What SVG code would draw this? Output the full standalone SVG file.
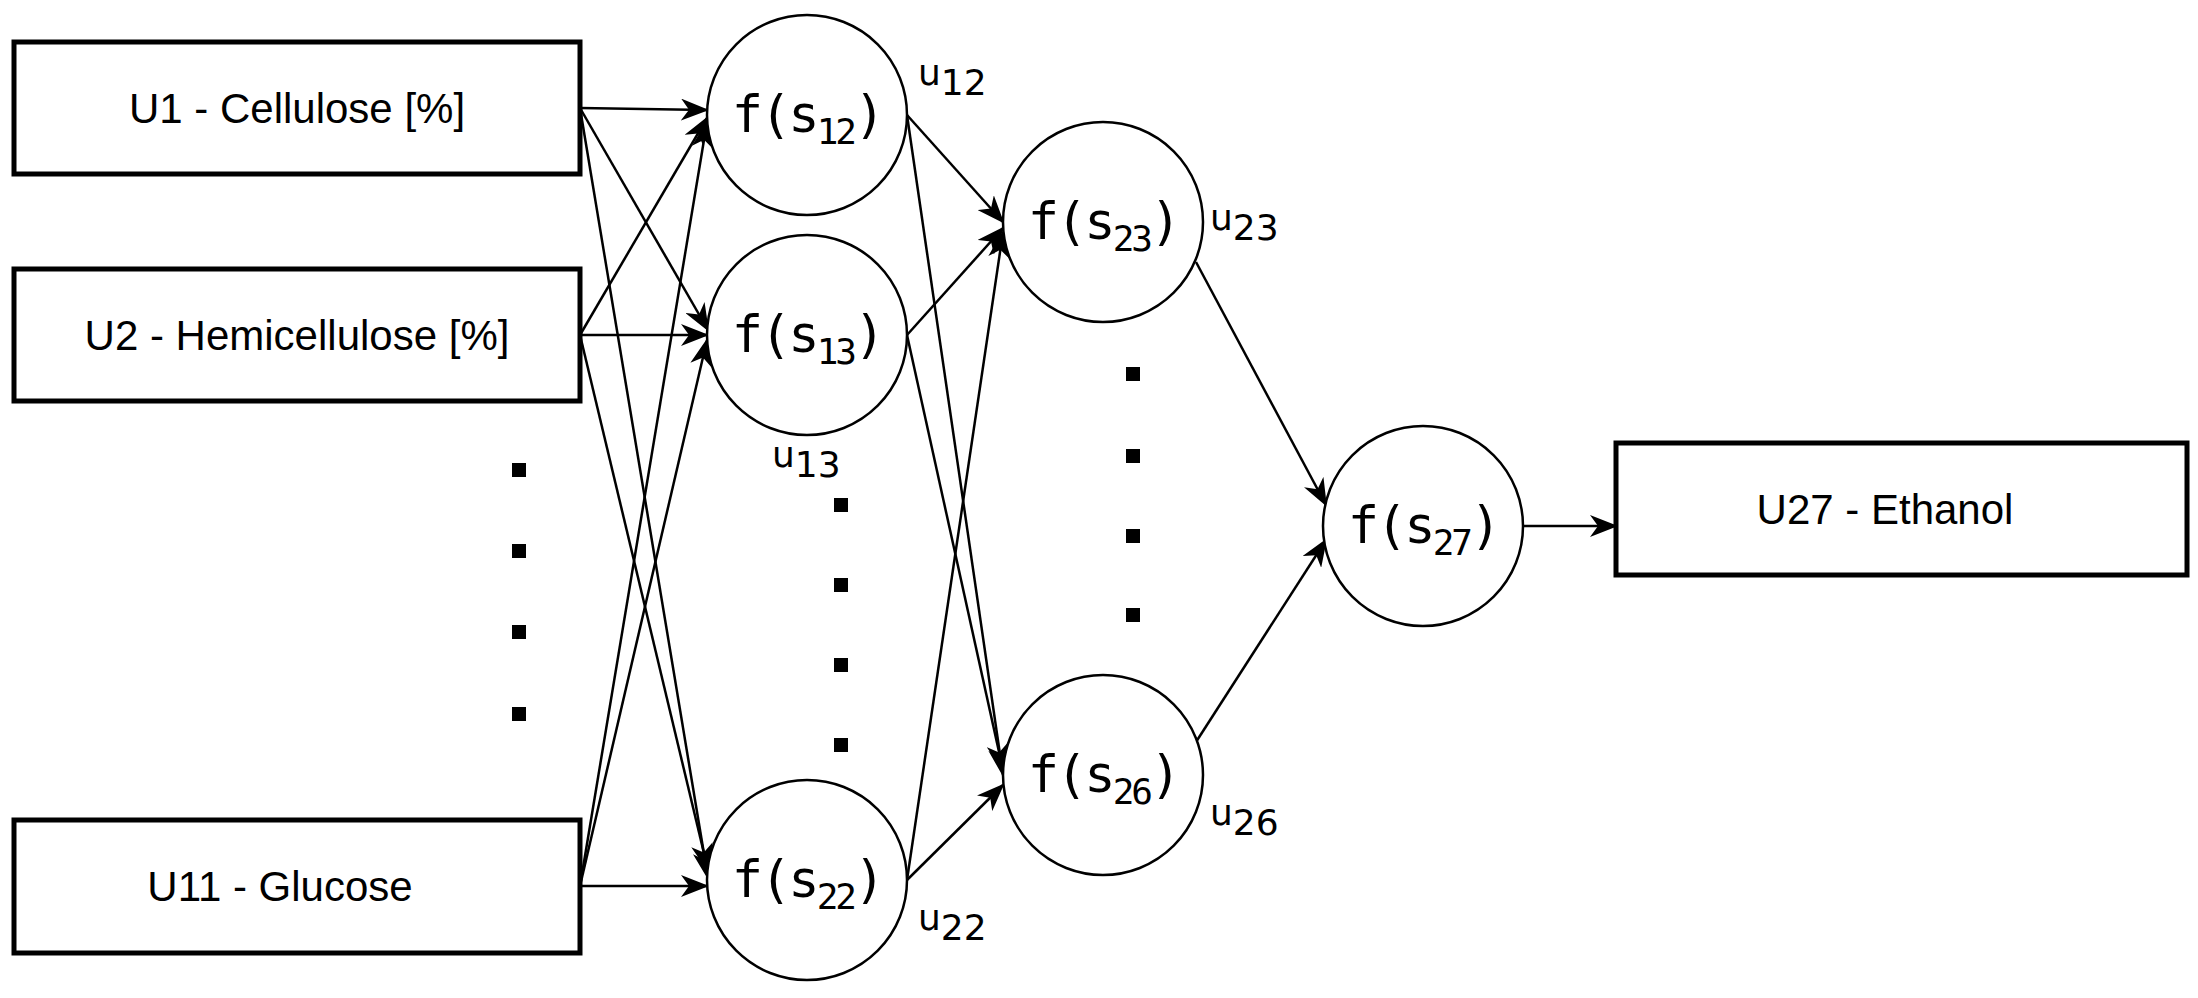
<svg xmlns="http://www.w3.org/2000/svg" width="2198" height="998" viewBox="0 0 2198 998">
<style>
.box{fill:#fff;stroke:#000;stroke-width:5}
.node{fill:#fff;stroke:#000;stroke-width:2.5}
.bt{font-family:"Liberation Sans",Arial,sans-serif;font-size:42px;text-anchor:middle}
.ft{font-family:"DejaVu Sans Mono",monospace;font-size:52px;text-anchor:middle;letter-spacing:-3px}
.lt{font-family:"DejaVu Sans",sans-serif;font-size:36px}
.e{stroke:#000;stroke-width:2.5;fill:none;marker-end:url(#ah)}
.dot{fill:#000}
</style>
<defs>
<marker id="ah" markerWidth="28" markerHeight="22" refX="26" refY="11" orient="auto" markerUnits="userSpaceOnUse">
<path d="M0,0 L28,11 L0,22 L8,11 z" fill="#000"/>
</marker>
</defs>
<rect width="2198" height="998" fill="#fff"/>
<g id="connectors">
<line class="e" x1="580" y1="108" x2="707" y2="110"/>
<line class="e" x1="580" y1="108" x2="708" y2="330"/>
<line class="e" x1="580" y1="108" x2="708" y2="878"/>
<line class="e" x1="580" y1="335" x2="707" y2="118"/>
<line class="e" x1="580" y1="335" x2="707" y2="335"/>
<line class="e" x1="580" y1="335" x2="708" y2="870"/>
<line class="e" x1="580" y1="886" x2="707" y2="122"/>
<line class="e" x1="580" y1="886" x2="707" y2="340"/>
<line class="e" x1="580" y1="886" x2="707" y2="886"/>
<line class="e" x1="907" y1="115" x2="1003" y2="222"/>
<line class="e" x1="907" y1="115" x2="1003" y2="775"/>
<line class="e" x1="907" y1="335" x2="1003" y2="228"/>
<line class="e" x1="907" y1="335" x2="1003" y2="770"/>
<line class="e" x1="907" y1="880" x2="1003" y2="232"/>
<line class="e" x1="907" y1="880" x2="1003" y2="785"/>
<line class="e" x1="1196" y1="262" x2="1326" y2="505"/>
<line class="e" x1="1196" y1="742" x2="1326" y2="540"/>
<line class="e" x1="1523" y1="526" x2="1616" y2="526"/>
</g>
<g id="U1"><rect class="box" x="14" y="42" width="566" height="132"/><text class="bt" x="297" y="123">U1 - Cellulose [%]</text></g>
<g id="U2"><rect class="box" x="14" y="269" width="566" height="132"/><text class="bt" x="297" y="350">U2 - Hemicellulose [%]</text></g>
<g id="U11"><rect class="box" x="14" y="820" width="566" height="133"/><text class="bt" x="280" y="901">U11 - Glucose</text></g>
<g id="U27"><rect class="box" x="1616" y="443" width="571" height="132"/><text class="bt" x="1885" y="524">U27 - Ethanol</text></g>
<g id="n12"><circle class="node" cx="807" cy="115" r="100"/><text class="ft" x="807" y="132">f(s<tspan font-size="36" dy="12">12</tspan><tspan dy="-12">)</tspan></text></g>
<g id="n13"><circle class="node" cx="807" cy="335" r="100"/><text class="ft" x="807" y="352">f(s<tspan font-size="36" dy="12">13</tspan><tspan dy="-12">)</tspan></text></g>
<g id="n22"><circle class="node" cx="807" cy="880" r="100"/><text class="ft" x="807" y="897">f(s<tspan font-size="36" dy="12">22</tspan><tspan dy="-12">)</tspan></text></g>
<g id="n23"><circle class="node" cx="1103" cy="222" r="100"/><text class="ft" x="1103" y="239">f(s<tspan font-size="36" dy="12">23</tspan><tspan dy="-12">)</tspan></text></g>
<g id="n26"><circle class="node" cx="1103" cy="775" r="100"/><text class="ft" x="1103" y="792">f(s<tspan font-size="36" dy="12">26</tspan><tspan dy="-12">)</tspan></text></g>
<g id="n27"><circle class="node" cx="1423" cy="526" r="100"/><text class="ft" x="1423" y="543">f(s<tspan font-size="36" dy="12">27</tspan><tspan dy="-12">)</tspan></text></g>
<g id="labels">
<text class="lt" x="918" y="85">u<tspan dy="10">12</tspan></text>
<text class="lt" x="1210" y="230">u<tspan dy="10">23</tspan></text>
<text class="lt" x="772" y="467">u<tspan dy="10">13</tspan></text>
<text class="lt" x="1210" y="825">u<tspan dy="10">26</tspan></text>
<text class="lt" x="918" y="930">u<tspan dy="10">22</tspan></text>
</g>
<g id="dots">
<rect class="dot" x="512" y="463" width="14" height="14"/>
<rect class="dot" x="512" y="544" width="14" height="14"/>
<rect class="dot" x="512" y="625" width="14" height="14"/>
<rect class="dot" x="512" y="707" width="14" height="14"/>
<rect class="dot" x="834" y="498" width="14" height="14"/>
<rect class="dot" x="834" y="578" width="14" height="14"/>
<rect class="dot" x="834" y="658" width="14" height="14"/>
<rect class="dot" x="834" y="738" width="14" height="14"/>
<rect class="dot" x="1126" y="367" width="14" height="14"/>
<rect class="dot" x="1126" y="449" width="14" height="14"/>
<rect class="dot" x="1126" y="529" width="14" height="14"/>
<rect class="dot" x="1126" y="608" width="14" height="14"/>
</g>
</svg>
